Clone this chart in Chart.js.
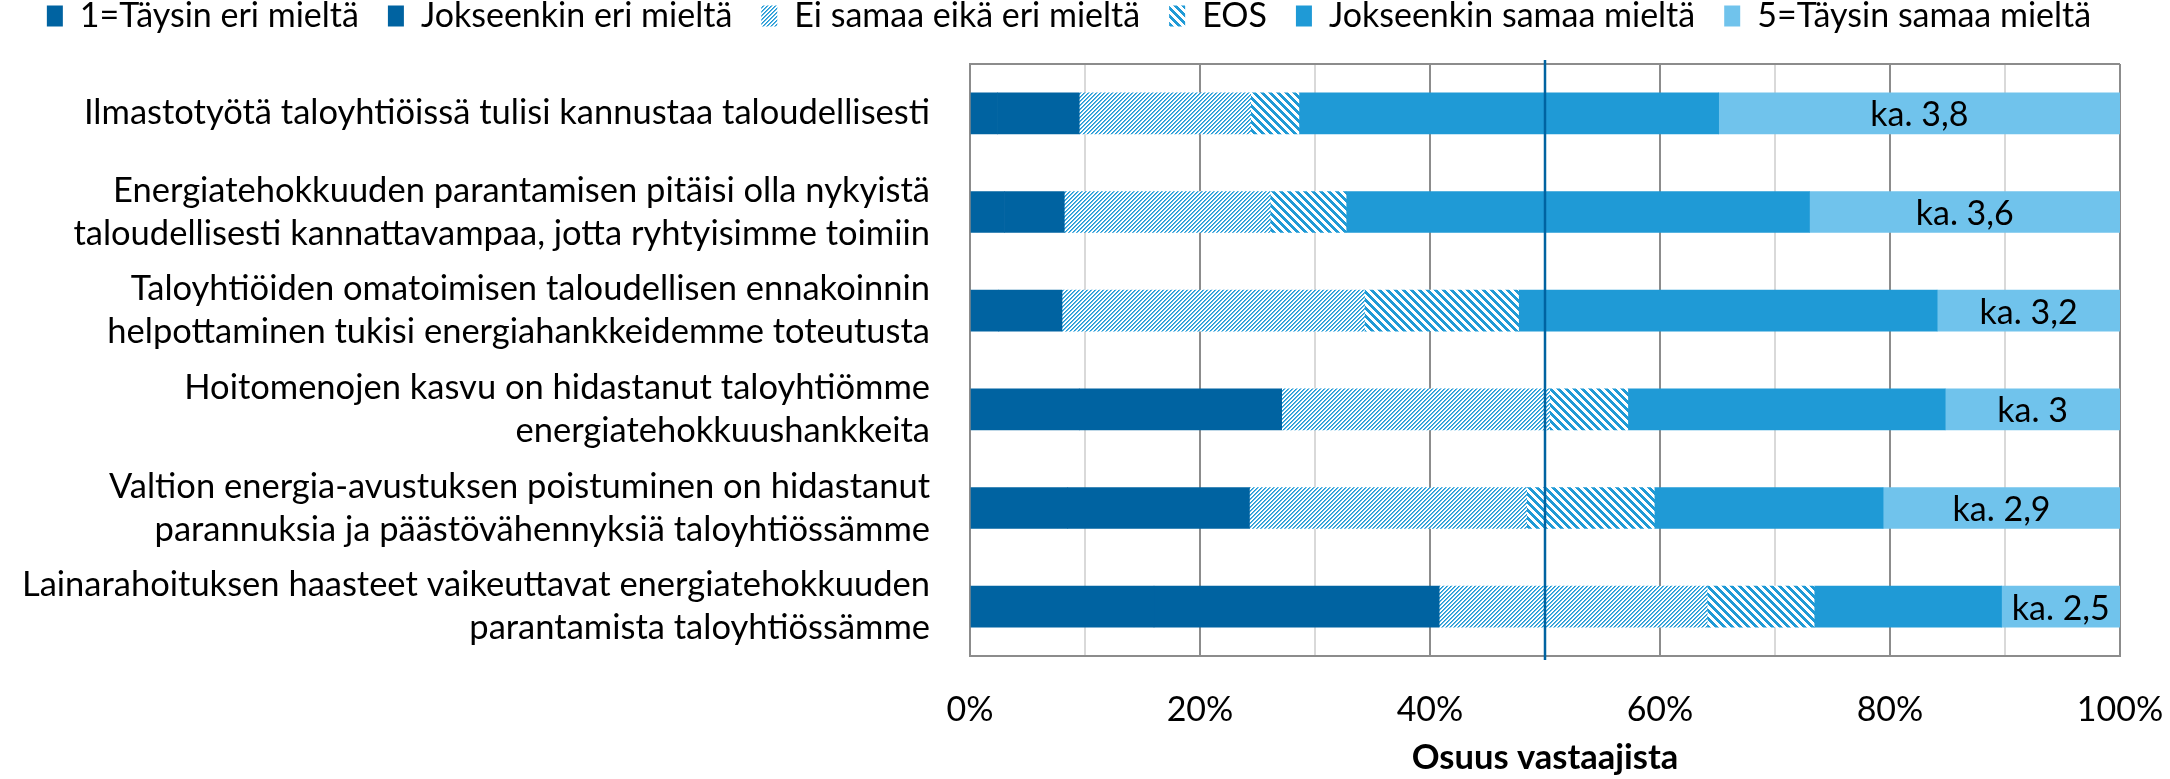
<!DOCTYPE html>
<html>
<head>
<meta charset="utf-8">
<script src="https://cdn.jsdelivr.net/npm/chart.js@4.4.0/dist/chart.umd.min.js"></script>
<style>
html, body { margin: 0; padding: 0; background: #fff; }
#wrap { width: 2170px; height: 779px; }
</style>
</head>
<body>
<div id="wrap"><canvas id="myChart"></canvas></div>
<script>
// väittämät (y-akseli)
const kategoriat = [
    'Ilmastotyötä taloyhtiöissä tulisi kannustaa taloudellisesti',
    ['Energiatehokkuuden parantamisen pitäisi olla nykyistä', 'taloudellisesti kannattavampaa, jotta ryhtyisimme toimiin'],
    ['Taloyhtiöiden omatoimisen taloudellisen ennakoinnin', 'helpottaminen tukisi energiahankkeidemme toteutusta'],
    ['Hoitomenojen kasvu on hidastanut taloyhtiömme', 'energiatehokkuushankkeita'],
    ['Valtion energia-avustuksen poistuminen on hidastanut', 'parannuksia ja päästövähennyksiä taloyhtiössämme'],
    ['Lainarahoituksen haasteet vaikeuttavat energiatehokkuuden', 'parantamista taloyhtiössämme']
];

// osuudet %
const taysinEri = [2.4, 3.0, 2.5, 9.5, 8.5, 16.0];
const jokseenkinEri = [7.1, 5.2, 5.5, 17.6, 15.8, 24.8];
const eiSamaaEiEri = [14.9, 17.9, 26.3, 23.3, 24.1, 23.3];
const eos = [4.2, 6.6, 13.4, 6.8, 11.1, 9.3];
const jokseenkinSamaa = [36.5, 40.3, 36.4, 27.6, 19.9, 16.3];
const taysinSamaa = [34.9, 27.0, 15.9, 15.2, 20.6, 10.3];

const keskiarvot = ['ka. 3,8', 'ka. 3,6', 'ka. 3,2', 'ka. 3', 'ka. 2,9', 'ka. 2,5'];
const xTickLabels = ['0%', '20%', '40%', '60%', '80%', '100%'];

const FONT = 'Lato';

function hatch(period, thick, dir, soft) {
    const c = document.createElement('canvas');
    c.width = period; c.height = period;
    const g = c.getContext('2d');
    g.fillStyle = '#fff';
    g.fillRect(0, 0, period, period);
    for (let y = 0; y < period; y++) {
        for (let x = 0; x < period; x++) {
            const k = dir > 0 ? (x + y) % period : ((x - y) % period + period) % period;
            if (k < thick) {
                g.fillStyle = '#1f9ad6';
                g.fillRect(x, y, 1, 1);
            } else if (soft && k === thick) {
                g.fillStyle = soft;
                g.fillRect(x, y, 1, 1);
            }
        }
    }
    return g.createPattern(c, 'repeat');
}

const vaaleaVino = hatch(4, 1, 1, '#5db4e2');
const leveaVino = hatch(8, 4, -1);

// legendan paikka
const legendShift = {
    id: 'legendShift',
    beforeInit(chart) {
        const fit = chart.legend.fit;
        chart.legend.fit = function () { fit.call(this); this.height = 64; };
    },
    afterLayout(chart) {
        chart.legend.top = -30;
        chart.legend.left = -16;
        chart.legend.right = 2154;
    }
};

const extras = {
    id: 'extras',
    afterDatasetsDraw(chart) {
        const ctx = chart.ctx;
        const area = chart.chartArea;
        const xs = chart.scales.x;
        ctx.save();
        // yläreuna
        ctx.strokeStyle = '#8c8c8c';
        ctx.lineWidth = 2;
        ctx.beginPath();
        ctx.moveTo(area.left, area.top);
        ctx.lineTo(area.right, area.top);
        ctx.stroke();
        // 50 % viiva
        const mx = xs.getPixelForValue(50);
        ctx.strokeStyle = '#0063a1';
        ctx.lineWidth = 2.5;
        ctx.beginPath();
        ctx.moveTo(mx, area.top - 4);
        ctx.lineTo(mx, area.bottom + 4);
        ctx.stroke();
        // keskiarvot
        const meta = chart.getDatasetMeta(chart.data.datasets.length - 1);
        ctx.fillStyle = '#000';
        ctx.font = '34px ' + FONT;
        ctx.textAlign = 'center';
        ctx.textBaseline = 'middle';
        meta.data.forEach((bar, i) => {
            ctx.fillText(keskiarvot[i], (bar.x + bar.base) / 2, bar.y + 2);
        });
        ctx.restore();
    }
};

const ctx = document.getElementById('myChart');
const graphData = {
    type: 'bar',
    data: {
        labels: kategoriat,
        datasets: [
            { label: '1=Täysin eri mieltä', data: taysinEri, backgroundColor: '#0063a1' },
            { label: 'Jokseenkin eri mieltä', data: jokseenkinEri, backgroundColor: '#0063a1' },
            { label: 'Ei samaa eikä eri mieltä', data: eiSamaaEiEri, backgroundColor: vaaleaVino },
            { label: 'EOS', data: eos, backgroundColor: leveaVino },
            { label: 'Jokseenkin samaa mieltä', data: jokseenkinSamaa, backgroundColor: '#1f9ad6' },
            { label: '5=Täysin samaa mieltä', data: taysinSamaa, backgroundColor: '#70c3ec' }
        ]
    },
    options: {
        indexAxis: 'y',
        responsive: true,
        maintainAspectRatio: false,
        animation: false,
        devicePixelRatio: 1,
        layout: { padding: { left: 0, right: 50, top: 0, bottom: 0 } },
        datasets: { bar: { barThickness: 41, borderWidth: 0 } },
        plugins: {
            tooltip: { enabled: false },
            legend: {
                position: 'top',
                labels: {
                    font: { family: FONT, size: 34 },
                    color: '#000',
                    boxWidth: 16,
                    boxHeight: 21,
                    padding: 29
                }
            }
        },
        scales: {
            x: {
                stacked: true,
                min: 0,
                max: 100,
                afterFit(scale) {
                    scale.height = 123;
                    scale.paddingLeft = 0;
                    scale.paddingRight = 0;
                },
                ticks: {
                    stepSize: 10,
                    autoSkip: false,
                    maxRotation: 0,
                    padding: 34,
                    color: '#000',
                    font: { family: FONT, size: 34 },
                    callback: v => (v % 20 === 0 ? xTickLabels[v / 20] : '')
                },
                grid: {
                    drawTicks: false,
                    color: c => (c.tick && c.tick.value % 20 === 0 ? '#8c8c8c' : '#d9d9d9'),
                    lineWidth: 2
                },
                border: { display: true, color: '#8c8c8c', width: 2 },
                title: {
                    display: true,
                    text: 'Osuus vastaajista',
                    color: '#000',
                    font: { family: FONT, size: 34.5, weight: 'bold' },
                    padding: { top: 0, bottom: 0 }
                }
            },
            y: {
                stacked: true,
                afterFit(scale) {
                    scale.width = 970;
                    scale.paddingTop = 0;
                    scale.paddingBottom = 0;
                },
                grid: { display: false, drawTicks: false },
                border: { display: true, color: '#8c8c8c', width: 2 },
                ticks: {
                    padding: 40,
                    color: '#000',
                    font: { family: FONT, size: 34.5, lineHeight: 1.25 }
                }
            }
        }
    },
    plugins: [legendShift, extras]
};
const myChart = new Chart(ctx, graphData);
</script>
</body>
</html>
